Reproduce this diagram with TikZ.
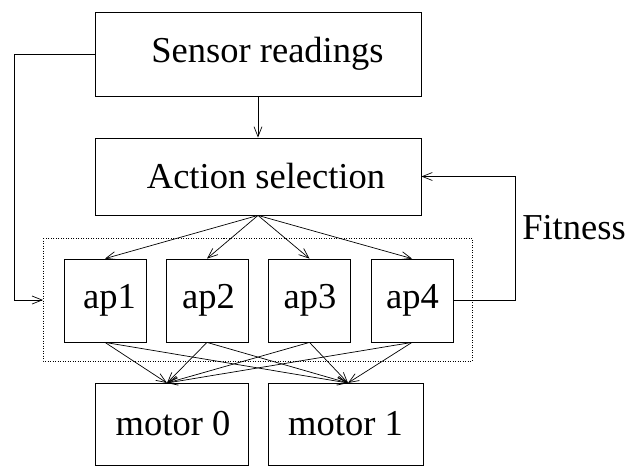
\documentclass[tikz,border=0pt]{standalone}
\usepackage{fontspec}
\setmainfont{Liberation Serif}
\usetikzlibrary{arrows.meta,calc}
\begin{document}
\begin{tikzpicture}[x=1pt,y=-1pt,
  box/.style={draw,line width=0.8pt,minimum width=#1,inner sep=0pt},
  conn/.style={line width=0.7pt},
  arr/.style={conn,-{Straight Barb[length=10pt,width=8pt,line width=0.7pt]}},
  lbl/.style={font=\fontsize{36.5}{40}\selectfont,inner sep=0pt}]
\useasboundingbox (0,0) rectangle (629,467);
% main blocks
\node[box=326pt,minimum height=84pt] (sensor) at (258,54) {};
\node[lbl] (sensortxt) at ($(sensor)+(9.5,0)$) {Sensor readings};
\node[box=326pt,minimum height=77pt] (action) at (258,176.5) {};
\node[lbl] (actiontxt) at ($(action)+(8,0)$) {Action selection};
% action primitives inside the dotted group
\draw[line width=0.7pt,dash pattern=on 1pt off 1.5pt] (43,238) rectangle (472,361);
\coordinate (grp) at (43,300);
\node[box=82pt,minimum height=83pt] (ap1) at (105,300.5) {};
\node[box=82pt,minimum height=83pt] (ap2) at (207,300.5) {};
\node[box=82pt,minimum height=83pt] (ap3) at (309.5,300.5) {};
\node[box=82pt,minimum height=83pt] (ap4) at (412,300.5) {};
\node[lbl] (ap1txt) at ($(ap1)+(4.5,0)$) {ap1};
\node[lbl] (ap2txt) at ($(ap2)+(1.5,0)$) {ap2};
\node[lbl] (ap3txt) at ($(ap3)+(0.5,0)$) {ap3};
\node[lbl] (ap4txt) at ($(ap4)+(0.5,0)$) {ap4};
% motors
\node[box=153pt,minimum height=82pt] (m0) at (171.5,424) {};
\node[box=155pt,minimum height=82pt] (m1) at (345.5,424) {};
\node[lbl] (m0txt) at ($(m0)+(1.5,0)$) {motor 0};
\node[lbl] (m1txt) at (m1) {motor 1};
\coordinate (m0in) at (167,383);
\coordinate (m1in) at (348,383);
\node[lbl] (fit) at (574,228) {Fitness};
% connectors
\draw[arr] (sensor.south) -- (action.north);
\foreach \a in {ap1,ap2,ap3,ap4}{
  \draw[arr] (action.south) -- (\a.north);
  \draw[arr] (\a.south) -- (m0in);
  \draw[arr] (\a.south) -- (m1in);
}
\draw[arr] (sensor.west) -- (14,54) |- (grp);
\draw[arr] (ap4.east) -- (515,300.5) |- (action.east);
\end{tikzpicture}
\end{document}
